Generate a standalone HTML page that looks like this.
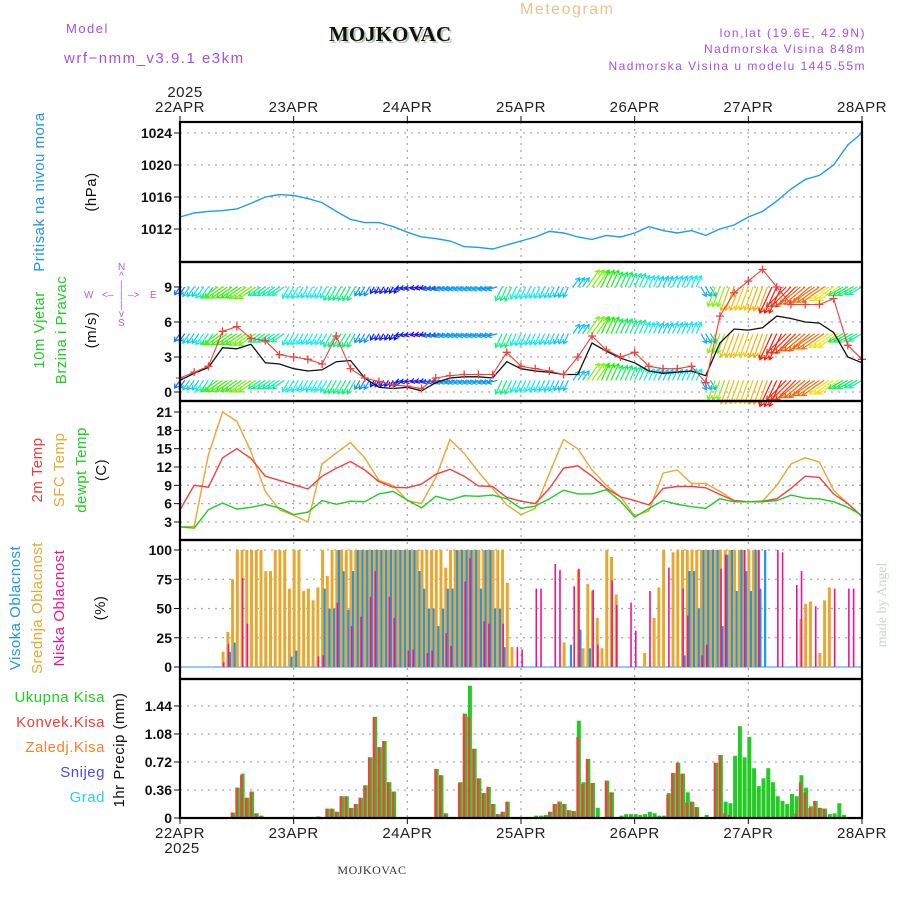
<!DOCTYPE html>
<html><head><meta charset="utf-8"><title>Meteogram MOJKOVAC</title>
<style>
html,body{margin:0;padding:0;background:#fff;}
svg{display:block;font-family:"Liberation Sans",sans-serif;}
.tk{font-size:14px;font-weight:bold;fill:#111;text-anchor:end;}
.dt{font-size:15px;fill:#222;text-anchor:middle;letter-spacing:0.5px;}
.lab{font-size:15px;letter-spacing:0.5px;}
.pur{fill:#a450e8;font-size:13px;letter-spacing:1.5px;}
</style></head>
<body>
<svg id="chart" width="900" height="900" viewBox="0 0 900 900" xmlns="http://www.w3.org/2000/svg">
<text x="66" y="33" class="pur">Model</text>
<text x="64" y="63" class="pur" style="font-size:15px">wrf−nmm_v3.9.1 e3km</text>
<text x="331" y="43" style="font-family:'Liberation Serif',serif;font-weight:bold;font-size:21px;fill:#b8cbb0">MOJKOVAC</text>
<text x="329" y="41" style="font-family:'Liberation Serif',serif;font-weight:bold;font-size:21px;fill:#111">MOJKOVAC</text>
<text x="520" y="14" style="font-size:16px;fill:#e8c48a;letter-spacing:1.5px">Meteogram</text>
<text x="866" y="37" class="pur" style="text-anchor:end;font-size:12px">lon,lat (19.6E, 42.9N)</text>
<text x="866" y="53" class="pur" style="text-anchor:end;font-size:12px">Nadmorska Visina 848m</text>
<text x="866" y="70" class="pur" style="text-anchor:end;font-size:12px">Nadmorska Visina u modelu 1445.55m</text>
<text x="185" y="97" class="dt">2025</text>
<text x="182" y="853" class="dt">2025</text>
<text x="372" y="874" style="font-family:'Liberation Serif',serif;font-size:12px;fill:#333;text-anchor:middle;letter-spacing:0.5px">MOJKOVAC</text>
<text transform="translate(886,605) rotate(-90)" style="font-family:'Liberation Serif',serif;font-size:14px;fill:#c8d8c8;text-anchor:middle">made by Angel</text>

<text transform="translate(44,192) rotate(-90)" class="lab" style="fill:#1e96f0;text-anchor:middle">Pritisak na nivou mora</text>
<text transform="translate(96,192) rotate(-90)" class="lab" style="fill:#111;text-anchor:middle">(hPa)</text>
<text transform="translate(44,330) rotate(-90)" class="lab" style="fill:#22cc22;text-anchor:middle">10m Vjetar</text>
<text transform="translate(66,330) rotate(-90)" class="lab" style="fill:#22cc22;text-anchor:middle">Brzina i Pravac</text>
<text transform="translate(96,330) rotate(-90)" class="lab" style="fill:#111;text-anchor:middle">(m/s)</text>
<g style="fill:#b060e8;font-size:10px">
<text x="118" y="270">N</text><text x="119" y="279">^</text><text x="120" y="288">|</text>
<text x="84" y="298">W</text><text x="102" y="298">&lt;–</text><text x="120" y="298">|</text><text x="128" y="298">–&gt;</text><text x="150" y="298">E</text>
<text x="120" y="308">|</text><text x="119" y="317">v</text><text x="118" y="326">S</text>
</g>
<text transform="translate(42,470) rotate(-90)" class="lab" style="fill:#f03c3c;text-anchor:middle">2m Temp</text>
<text transform="translate(64,470) rotate(-90)" class="lab" style="fill:#e8a830;text-anchor:middle">SFC Temp</text>
<text transform="translate(86,470) rotate(-90)" class="lab" style="fill:#22cc22;text-anchor:middle">dewpt Temp</text>
<text transform="translate(106,470) rotate(-90)" class="lab" style="fill:#111;text-anchor:middle">(C)</text>
<text transform="translate(20,608) rotate(-90)" class="lab" style="fill:#1e96f0;text-anchor:middle">Visoka Oblacnost</text>
<text transform="translate(42,608) rotate(-90)" class="lab" style="fill:#e8a830;text-anchor:middle">Srednja Oblacnost</text>
<text transform="translate(64,608) rotate(-90)" class="lab" style="fill:#f0148c;text-anchor:middle">Niska Oblacnost</text>
<text transform="translate(105,608) rotate(-90)" class="lab" style="fill:#111;text-anchor:middle">(%)</text>
<text x="105" y="702" class="lab" style="fill:#22cc22;text-anchor:end">Ukupna Kisa</text>
<text x="105" y="727" class="lab" style="fill:#f03c3c;text-anchor:end">Konvek.Kisa</text>
<text x="105" y="752" class="lab" style="fill:#f88030;text-anchor:end">Zaledj.Kisa</text>
<text x="105" y="777" class="lab" style="fill:#4848f0;text-anchor:end">Snijeg</text>
<text x="105" y="802" class="lab" style="fill:#30d0d0;text-anchor:end">Grad</text>
<text transform="translate(124,750) rotate(-90)" class="lab" style="fill:#111;text-anchor:middle">1hr Precip (mm)</text>
</svg>
<script>
// ---- data (3-hourly, hour 0..144) ----
const dayLabels = ['22APR','23APR','24APR','25APR','26APR','27APR','28APR'];
const pressTicks = [1012,1016,1020,1024];
const windTicks = [0,3,6,9];
const tempTicks = [3,6,9,12,15,18,21];
const cloudTicks = [0,25,50,75,100];
const precipTicks = [0,0.36,0.72,1.08,1.44];
const pressure = [1013.5,1014,1014.2,1014.3,1014.5,1015.2,1016,1016.3,1016.2,1015.8,1015.3,1014.2,1013.2,1012.8,1012.8,1012.3,1011.6,1011,1010.8,1010.5,1009.8,1009.7,1009.5,1010,1010.5,1011,1011.7,1011.5,1011,1010.7,1011.2,1011,1011.5,1012.3,1011.8,1011.5,1011.8,1011.2,1012,1012.5,1013.5,1014.2,1015.5,1017,1018.2,1018.7,1020,1022.5,1024];
const windSpeed = [1.0,1.6,2.1,3.8,3.7,4.1,2.5,2.4,2.0,1.8,1.9,2.6,2.7,1.2,0.4,0.3,0.4,0.1,0.8,1.2,1.3,1.3,1.2,2.6,2.0,1.8,1.7,1.5,1.5,4.2,3.5,2.9,2.5,1.8,1.6,1.7,1.8,1.4,4.2,5.4,5.3,5.5,6.5,6.3,6.0,5.9,5.1,3.0,2.5];
const windGust = [1.2,1.7,2.2,5.2,5.6,4.6,4.4,3.2,3.0,2.8,2.4,4.8,2.0,1.2,0.9,0.6,0.5,0.3,1.2,1.4,1.5,1.5,1.5,3.4,2.2,2.0,1.8,1.5,3.0,4.8,3.6,3.0,3.4,2.2,2.0,2.0,2.2,0.8,6.5,8.5,9.5,10.5,9.0,7.5,7.5,7.5,8.0,4.0,2.8];
const windDir = [35,35,35,55,55,55,55,55,30,30,30,30,30,30,30,30,75,75,75,75,75,75,75,25,25,25,25,25,215,215,205,205,205,205,205,205,205,330,20,20,20,20,25,45,50,55,55,60,60];
const temp2m = [5,9.0,8.7,13.5,15.0,13.4,10.5,9.8,9.1,8.4,10.5,11.8,12.9,11.5,9.6,8.7,8.6,9.2,10.8,11.6,10.5,8.9,8.8,7.0,6.4,6.0,8.5,11.8,12.2,10.5,8.5,7.1,6.5,5.8,8.5,8.8,8.8,8.6,7.5,6.5,6.3,6.4,6.8,8.5,10.5,10.3,7.6,6.0,3.9];
const tempSfc = [2.2,2.3,14,21,19.5,14.5,8,5,4.1,3,12.5,14.3,16,13.5,9.8,9,6.5,6,10.3,16.5,14.2,11.2,8.5,5.8,4.2,5.2,11,16.5,15,11.5,9,7.1,4,4.8,11,11.5,9.3,9.3,8,6.5,6.3,6.4,9,12.5,13.5,12.8,8.2,6,3.9];
const dewpt = [2.2,2.0,5,6.1,5.1,5.4,5.9,5.3,4.2,4.6,6.5,5.9,6.4,6.3,7.6,8,6.6,5.3,7.2,6.6,7.3,7.2,7.4,6.8,5.2,5.6,6.8,8.2,7.6,7.6,8.3,6.4,3.8,5.2,6.5,5.9,5.5,5.2,6.8,6.3,6.3,6.3,6.5,7.4,6.9,6.8,6.3,5.4,4.1];
// ---- hourly data (hour 0..144) ----
const cloudLow = [0,0,0,0,0,0,0,0,0,4,20,0, 0,76,37,0,0,0,0,0,0,0,0,0, 0,0,0,0,0,9,10,0,0,55,0,0, 35,0,43,0,60,82,0,0,60,42,0,0, 14,15,0,0,12,14,0,0,29,18,0,0, 73,93,0,0,39,37,0,0,37,0,0,17, 15,0,0,67,67,0,0,88,83,0,0,69, 84,0,0,66,19,0,0,74,53,0,0,55, 31,0,0,65,0,0,0,85,0,0,67,44, 0,0,10,19,0,0,84,96,0,0,0,100, 0,0,100,0,0,0,100,98,0,0,70,82, 0,0,52,0,0,0,67,0,0,67,67,0, 0];
const cloudMid = [0,0,0,0,0,0,0,0,0,13,30,75, 100,100,100,100,100,100,82,82,100,100,100,67, 100,100,65,67,57,68,100,78,100,100,100,100, 100,100,100,100,100,100,100,100,100,100,100,100, 100,100,100,100,100,100,100,100,85,100,100,100, 100,100,100,100,100,100,100,100,100,72,17,0, 0,0,0,0,0,0,0,0,0,21,0,0, 83,16,71,65,42,16,100,94,62,0,0,0, 0,0,12,0,42,68,100,0,98,100,100,100, 100,100,100,100,100,100,100,100,100,100,100,100, 100,100,100,0,0,0,0,0,0,0,0,41, 54,56,0,12,57,68,0,0,0,0,0,0, 0];
const cloudHigh = [0,0,0,0,0,0,0,0,0,0,13,21, 0,0,0,0,0,0,0,0,0,0,0,9, 14,0,0,0,0,0,67,50,50,100,82,49, 82,100,100,100,100,100,100,100,100,100,100,100, 100,100,82,67,50,50,35,50,67,67,100,100, 100,100,100,67,100,100,50,50,17,0,0,0, 0,0,0,0,0,0,0,0,0,0,19,0, 32,0,16,0,0,0,0,0,0,0,0,0, 0,0,0,0,0,0,0,0,0,0,10,82, 82,50,100,100,100,100,35,96,100,65,100,82, 65,100,67,100,0,0,0,0,0,0,0,0, 0,0,0,0,0,0,0,0,0,0,0,0, 0];
const precipTotal = [0,0,0,0,0,0,0,0,0,0,0,0.07, 0.39,0.57,0.26,0.34,0.06,0.03,0,0,0,0,0,0, 0,0,0,0,0,0.02,0,0.12,0.12,0.08,0.28,0.28, 0.13,0.18,0.26,0.42,0.78,1.30,0.91,0.99,0.46,0.34,0,0, 0,0,0,0,0,0,0.63,0.55,0.06,0,0,0.46, 1.34,1.70,0.89,0.51,0.32,0.40,0.18,0.05,0.08,0.21,0,0, 0,0,0,0.03,0.03,0.04,0.08,0.18,0.21,0.18,0.10,0.09, 1.25,0.46,0.76,0.45,0.13,0,0.48,0.33,0,0.03,0.05,0.05, 0.05,0.04,0.05,0.08,0.06,0.03,0.03,0.32,0.58,0.71,0.57,0.33, 0.21,0.14,0,0.04,0,0.71,0.81,0.21,0.19,0.80,1.18,0.78, 1.04,0.64,0.41,0.51,0.64,0.46,0.28,0.22,0.18,0.31,0.28,0.55, 0.39,0.15,0.22,0.13,0.12,0.05,0.06,0.19,0.04,0,0,0, 0];
const precipConv = [0,0,0,0,0,0,0,0,0,0,0,0.07, 0.39,0.55,0.26,0.34,0.06,0.02,0,0,0,0,0,0, 0,0,0,0,0,0,0,0.12,0.12,0.08,0.28,0.28, 0.13,0.18,0.26,0.42,0.78,1.30,0.91,0.99,0.46,0.34,0,0, 0,0,0,0,0,0,0.63,0.55,0.06,0,0,0.45, 1.34,1.30,0.89,0.51,0.32,0.40,0.18,0.05,0.08,0.21,0,0, 0,0,0,0,0,0.02,0.08,0.18,0.21,0.18,0.10,0.09, 1.04,0.44,0.76,0.45,0,0,0.48,0.33,0,0,0,0, 0,0,0,0,0,0,0,0.30,0.58,0.71,0.57,0.20, 0.21,0.14,0,0,0,0.71,0.81,0.06,0.04,0,0,0, 0,0,0,0,0,0,0,0,0,0,0.06,0.46, 0.33,0.13,0.22,0.13,0.12,0,0,0,0,0,0,0, 0];

// ---- axes ----
const L = 180, R = 862;
const X = h => L + h * (R - L) / 144;
const yP = v => 133 + (1024 - v) * 8;
const yW = v => 392 - v * 11.67;
const yT = v => 412 + (21 - v) * 6.11;
const yC = v => 667 - v * 1.17;
const yR = v => 818 - v * 77.8;
const panels = [[122,262],[262,401],[401,540],[540,679],[679,818]];
const svg = document.getElementById('chart');
const NS = 'http://www.w3.org/2000/svg';
function el(tag, attrs, parent) {
  const e = document.createElementNS(NS, tag);
  for (const k in attrs) e.setAttribute(k, attrs[k]);
  (parent || svg).appendChild(e);
  return e;
}
function grp(name) {
  const g = el('g', {});
  
  
  return g;
}
const grid = grp('grid');
const dash = {stroke:'#aaa','stroke-width':1.3,'stroke-dasharray':'2,5'};
for (let d = 1; d < 6; d++) {
  const ln = el('line', Object.assign({x1:X(d*24),x2:X(d*24),y1:122,y2:818}, dash), grid);
  
  
}
function hgrid(ticks, fy, name) {
  const g = grp(name);
  ticks.forEach(t => {
    const y = fy(t);
    const ln = el('line', Object.assign({x1:L,x2:R,y1:y,y2:y}, dash), g);
    
    
    const tk = el('line', {x1:L-6,x2:L,y1:y,y2:y,stroke:'#111','stroke-width':1}, g);
    
    
    const tx = el('text', {x:L-8,y:y+5,class:'tk'}, g);
    tx.textContent = (name === 'precip-axis' && t !== 0) ? t.toFixed(2) : String(t);
    
    
  });
}
hgrid(pressTicks, yP, 'pressure-axis');
hgrid(windTicks, yW, 'wind-axis');
hgrid(tempTicks, yT, 'temp-axis');
hgrid(cloudTicks, yC, 'cloud-axis');
hgrid(precipTicks, yR, 'precip-axis');
const xax = grp('time-axis');
dayLabels.forEach((lab, i) => {
  const x = X(i*24);
  [[122,116,112],[818,824,838]].forEach(([y0,y1,ty]) => {
    const tk = el('line', {x1:x,x2:x,y1:y0,y2:y1,stroke:'#111'}, xax);
    
    
    const tx = el('text', {x:x,y:ty,class:'dt'}, xax);
    tx.textContent = lab;
    
    
  });
});
function line(arr, fy, color, name, w) {
  const d = arr.map((v,i) => (i ? 'L' : 'M') + X(i*3).toFixed(1) + ',' + fy(v).toFixed(1)).join('');
  const p = el('path', {d:d,fill:'none',stroke:color,'stroke-width':w||1.4});
  
  
  return p;
}
// pressure
line(pressure, yP, '#1e9bf0', 'pressure-line', 1.4);
// wind arrows
const wg = grp('wind-barbs');
function windColor(s) { const h = Math.max(0, 250 - s*38); return 'hsl(' + h + ',90%,50%)'; }
[9,5,1].forEach(row => {
  for (let h = 0; h <= 144; h++) {
    const i = Math.round(h/3);
    const s = windSpeed[i], dir = windDir[i];
    const len = 6 + s * 3.5;
    const a = (dir + 180) * Math.PI / 180;
    const x0 = X(h), y0 = yW(row);
    const x1 = x0 + Math.sin(a)*len, y1 = y0 - Math.cos(a)*len;
    const c = windColor(s);
    const hx = Math.sin(a), hy = -Math.cos(a);
    const b1x = x1 - hx*4 + hy*2.5, b1y = y1 - hy*4 - hx*2.5;
    const b2x = x1 - hx*4 - hy*2.5, b2y = y1 - hy*4 + hx*2.5;
    const ar = el('path', {d:'M'+x0+','+y0+'L'+x1+','+y1+'M'+b1x+','+b1y+'L'+x1+','+y1+'L'+b2x+','+b2y,stroke:c,'stroke-width':1.2,fill:'none'}, wg);
    
    
  }
});
line(windSpeed, yW, '#111', 'wind-speed-line', 1.3);
line(windGust, yW, '#f04040', 'wind-gust-line', 1.1);
const gg = grp('gust-markers');
windGust.forEach((v,i) => {
  const x = X(i*3), y = yW(v);
  const m = el('path', {d:'M'+(x-4)+','+y+'H'+(x+4)+'M'+x+','+(y-4)+'V'+(y+4),stroke:'#f04040','stroke-width':1.3}, gg);
  
  
});
// temperature
line(tempSfc, yT, '#e8a830', 'sfc-temp-line', 1.4);
line(temp2m, yT, '#f04040', 't2m-line', 1.4);
line(dewpt, yT, '#22cc22', 'dewpoint-line', 1.4);
// clouds
const cg = grp('cloud-bars');
const base = el('line', {x1:L,x2:R,y1:yC(0),y2:yC(0),stroke:'#7ab8e8','stroke-width':1.5}, cg);


for (let h = 0; h <= 144; h++) {
  const x = X(h);
  [[cloudMid[h],'#e8a830',-1,3,'mid-cloud-bar'],[cloudHigh[h],'#1e96f0',1.5,2.2,'high-cloud-bar'],[cloudLow[h],'#f0148c',0.3,1.6,'low-cloud-bar']].forEach(([v,c,off,w,nm]) => {
    if (v <= 0) return;
    const r = el('rect', {x:x+off,y:yC(v),width:w,height:yC(0)-yC(v),fill:c}, cg);
    
    
  });
}
// precipitation
const pg = grp('precip-bars');
for (let h = 0; h <= 144; h++) {
  const x = X(h);
  if (precipTotal[h] > 0) {
    const r = el('rect', {x:x-1,y:yR(precipTotal[h]),width:4,height:yR(0)-yR(precipTotal[h]),fill:'#22cc22'}, pg);
    
    
  }
  if (precipConv[h] > 0) {
    const r = el('rect', {x:x-1.5,y:yR(precipConv[h]),width:2.5,height:yR(0)-yR(precipConv[h]),fill:'#f04040'}, pg);
    
    
  }
}
// panel frames
const fg = grp('panel-frames');
panels.forEach(([t,b]) => {
  const r = el('rect', {x:L,y:t,width:R-L,height:b-t,fill:'none',stroke:'#000','stroke-width':2.2}, fg);
  
  
});
</script>
</body></html>
